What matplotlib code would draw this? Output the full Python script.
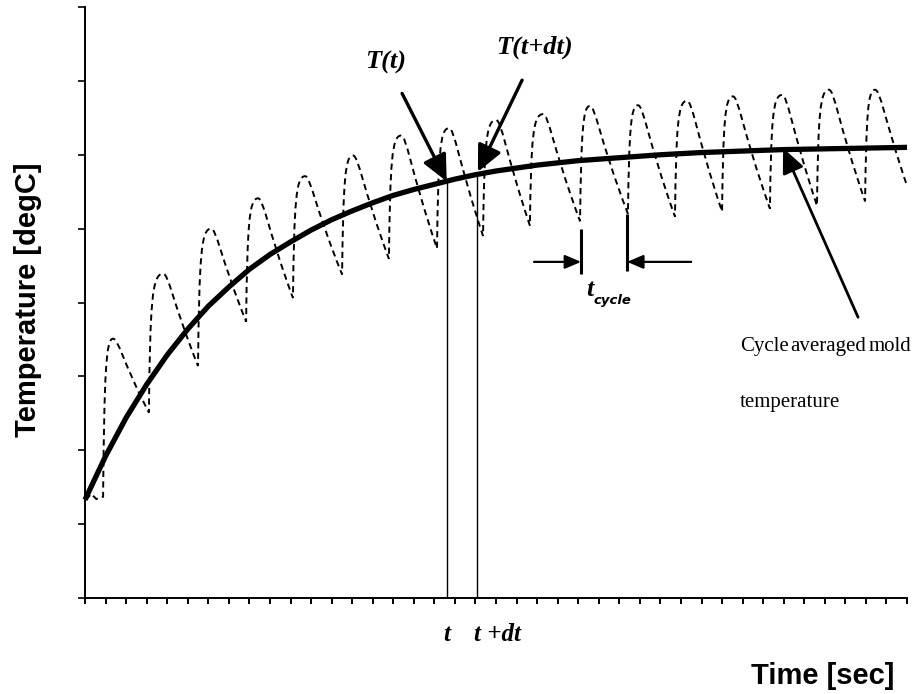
import numpy as np
import matplotlib
matplotlib.use("Agg")
import matplotlib.pyplot as plt
from matplotlib.path import Path
from matplotlib.patches import PathPatch

# cycle averaged (smooth) temperature
avg_t = [0, 1, 2, 3, 4, 5, 6, 7, 8, 9, 10, 11, 12, 13, 14, 15, 16, 17, 18, 19, 20,
         22, 24, 26, 28, 30, 32, 34, 36, 38, 40]
avg_T = [1.33, 1.92, 2.44, 2.89, 3.29, 3.64, 3.95, 4.21, 4.45, 4.65, 4.82, 4.98, 5.12,
         5.24, 5.35, 5.45, 5.53, 5.60, 5.67, 5.73, 5.78, 5.86, 5.92, 5.96, 6.00, 6.03,
         6.05, 6.07, 6.08, 6.09, 6.10]

# cyclic mold temperature (dashed): small start wiggle, troughs and peaks
wiggle_t = [0.05, 0.3, 0.55]
wiggle_T = [1.33, 1.41, 1.34]
trough_t = [0.88, 3.11, 5.50, 7.84, 10.12, 12.51, 14.79, 17.13, 19.37, 21.65, 24.09,
            26.42, 28.71, 31.00, 33.33, 35.62, 37.96]
trough_T = [1.37, 2.51, 3.14, 3.74, 4.06, 4.38, 4.59, 4.73, 4.90, 5.04, 5.10, 5.20,
            5.16, 5.23, 5.27, 5.31, 5.37]
peak_t = [1.36, 3.80, 6.13, 8.42, 10.71, 13.04, 15.38, 17.71, 20.00, 22.29, 24.57,
          26.91, 29.29, 31.53, 33.92, 36.20, 38.44]
peak_T = [3.51, 4.39, 5.00, 5.41, 5.71, 5.99, 6.26, 6.36, 6.47, 6.55, 6.66, 6.67,
          6.73, 6.79, 6.81, 6.88, 6.88]
end_t, end_T = 40.0, 5.58

# annotation positions
t_pos, t_dt_pos = 17.6, 19.08
T_at_t, T_at_tdt = 5.64, 5.72
cyc_left, cyc_right = 24.14, 26.38

SERIF = ["Liberation Serif", "DejaVu Serif"]
NARROW = ["Liberation Sans Narrow", "Liberation Sans", "DejaVu Sans"]

fig = plt.figure(figsize=(9.15, 6.94), dpi=100, facecolor="white")
ax = fig.add_axes([85/915, 96/694, 822/915, 591/694])
ax.set_xlim(0, 40)
ax.set_ylim(0, 8)

for s in ["top", "right"]:
    ax.spines[s].set_visible(False)
for s in ["left", "bottom"]:
    ax.spines[s].set_linewidth(1.4)
ax.set_xticks(range(41))
ax.set_yticks(range(9))
ax.set_xticklabels([])
ax.set_yticklabels([])
ax.tick_params(axis="x", direction="out", length=4.5, width=1.4)
ax.tick_params(axis="y", direction="out", length=5, width=1.2)

# dashed cyclic curve built as bezier path through troughs/peaks
verts = [(wiggle_t[0], wiggle_T[0])]
codes = [Path.MOVETO]
for x, y in zip(wiggle_t[1:], wiggle_T[1:]):
    verts.append((x, y)); codes.append(Path.LINETO)
verts.append((trough_t[0], trough_T[0])); codes.append(Path.LINETO)
n = len(trough_t)
for i in range(n):
    xt, yt, xp, yp = trough_t[i], trough_T[i], peak_t[i], peak_T[i]
    h = yp - yt
    verts += [(xt + 0.06, yt + 0.78*h), (xt + 0.14, yp), (xp, yp)]
    codes += [Path.CURVE4]*3
    if i + 1 < n:
        xn, yn = trough_t[i+1], trough_T[i+1]
    else:
        xn, yn = end_t, end_T
    d = yp - yn
    verts += [(xp + 0.27, yp), (xp + 0.45, yp - 0.3*d), (xn, yn)]
    codes += [Path.CURVE4]*3
ax.add_patch(PathPatch(Path(verts, codes), fill=False, edgecolor="black",
                       lw=1.4, linestyle=(0, (3.2, 2.2)), clip_on=False))

ax.plot(avg_t, avg_T, color="black", lw=3.8, solid_capstyle="butt", clip_on=False)

# t and t+dt lines
ax.vlines([t_pos, t_dt_pos], 0, [T_at_t, T_at_tdt], color="black", lw=1.0)

head_big = dict(arrowstyle="-|>,head_length=0.8,head_width=0.38", lw=2.4,
                color="black", mutation_scale=20, shrinkA=0, shrinkB=0)
ax.annotate("", xy=(t_pos, T_at_t), xytext=(15.43, 6.83), arrowprops=head_big)
ax.annotate("", xy=(19.12, 5.77), xytext=(21.27, 7.01), arrowprops=head_big)
ax.text(14.65, 7.25, "T(t)", fontsize=19, family=SERIF, weight="bold",
        style="italic", ha="center", va="center")
ax.text(21.85, 7.45, "T(t+dt)", fontsize=19, family=SERIF, weight="bold",
        style="italic", ha="center", va="center")

# t_cycle marker
ax.vlines([cyc_left], 4.38, 4.99, color="black", lw=2.2)
ax.vlines([cyc_right], 4.42, 5.20, color="black", lw=2.2)
head_small = dict(arrowstyle="-|>,head_length=0.75,head_width=0.32", lw=1.6,
                  color="black", mutation_scale=13, shrinkA=0, shrinkB=0)
ax.annotate("", xy=(cyc_left, 4.55), xytext=(21.85, 4.55), arrowprops=head_small)
ax.annotate("", xy=(cyc_right, 4.55), xytext=(29.5, 4.55), arrowprops=head_small)
ax.text(24.55, 4.18, "t", fontsize=19, family=SERIF, weight="bold",
        style="italic", ha="center", va="center")
ax.text(24.75, 4.03, "cycle", fontsize=9.5, family=["DejaVu Sans"], weight="bold",
        style="italic", ha="left", va="center")

# cycle averaged label and arrow
head_mid = dict(arrowstyle="-|>,head_length=0.75,head_width=0.34", lw=2.0,
                color="black", mutation_scale=20, shrinkA=0, shrinkB=0)
ax.annotate("", xy=(33.97, 6.09), xytext=(37.62, 3.80), arrowprops=head_mid)
ax.text(31.87, 3.41, "Cycle", fontsize=15, family=SERIF, ha="left", va="center")
ax.text(36.18, 3.41, "averaged", fontsize=15, family=SERIF, ha="center", va="center")
ax.text(40.19, 3.41, "mold", fontsize=15, family=SERIF, ha="right", va="center",
        clip_on=False)
ax.text(31.87, 2.65, "temperature", fontsize=15, family=SERIF, ha="left", va="center")

# x position labels
ax.text(t_pos, -0.5, "t", fontsize=18, family=SERIF, weight="bold", style="italic",
        ha="center", va="center", clip_on=False)
ax.text(18.95, -0.5, "t +dt", fontsize=18, family=SERIF, weight="bold",
        style="italic", ha="left", va="center", clip_on=False)

fig.text(823/915, 1 - 676/694, "Time [sec]", fontsize=21, family=NARROW,
         weight="bold", ha="center", va="center")
fig.text(28/915, 1 - 300/694, "Temperature [degC]", fontsize=21, family=NARROW,
         weight="bold", ha="center", va="center", rotation=90)

fig.savefig("out.png", dpi=100, facecolor="white")
